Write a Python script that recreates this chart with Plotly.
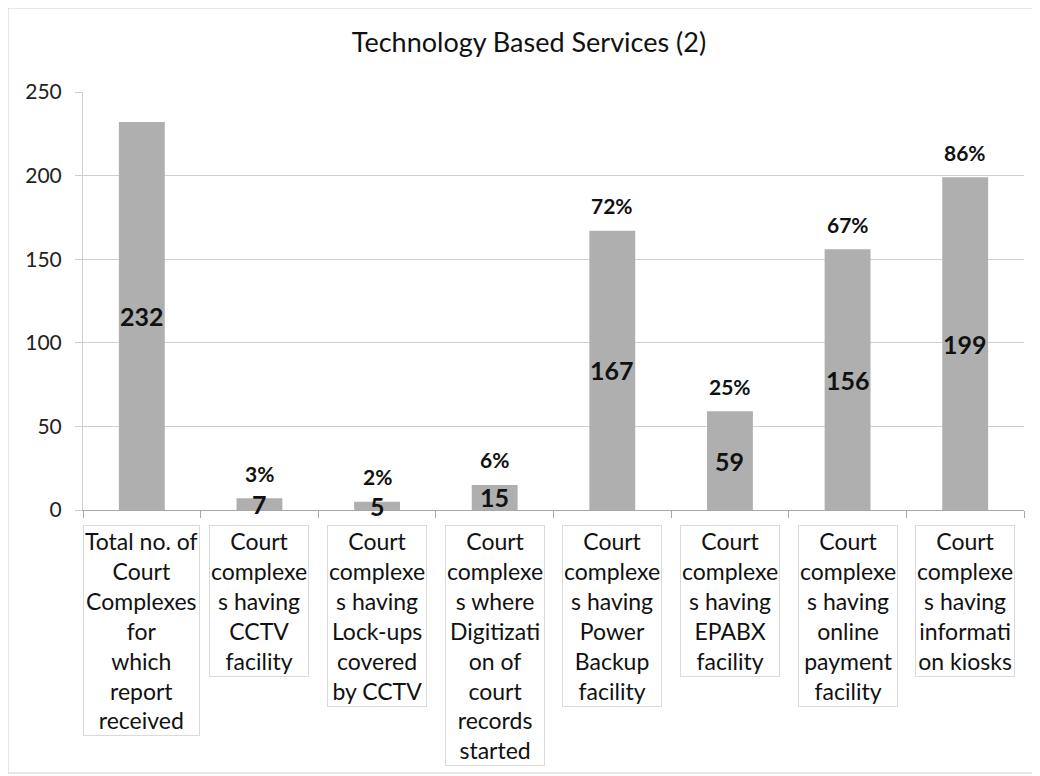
import plotly.graph_objects as go

categories = [
    "Total no. of<br>Court<br>Complexes<br>for<br>which<br>report<br>received",
    "Court<br>complexe<br>s having<br>CCTV<br>facility",
    "Court<br>complexe<br>s having<br>Lock-ups<br>covered<br>by CCTV",
    "Court<br>complexe<br>s where<br>Digitizati<br>on of<br>court<br>records<br>started",
    "Court<br>complexe<br>s having<br>Power<br>Backup<br>facility",
    "Court<br>complexe<br>s having<br>EPABX<br>facility",
    "Court<br>complexe<br>s having<br>online<br>payment<br>facility",
    "Court<br>complexe<br>s having<br>informati<br>on kiosks",
]
values = [232, 7, 5, 15, 167, 59, 156, 199]
percent_labels = ["", "3%", "2%", "6%", "72%", "25%", "67%", "86%"]
ytick_vals = [0, 50, 100, 150, 200, 250]

keys = [f"c{i}" for i in range(len(categories))]

FONT = "Lato, 'Open Sans', Arial, sans-serif"

fig = go.Figure()
fig.add_trace(go.Bar(
    x=keys, y=values,
    marker=dict(color="#afafaf", line=dict(width=0)),
    width=0.39,
    hoverinfo="skip",
))

annotations = []
for k, v, p, c in zip(keys, values, percent_labels, categories):
    annotations.append(dict(
        x=k, y=v / 2, xref="x", yref="y", text=f"<b>{v}</b>",
        showarrow=False, font=dict(family=FONT, size=25, color="#111111"),
        xanchor="center", yanchor="middle",
    ))
    if p:
        annotations.append(dict(
            x=k, y=v, xref="x", yref="y", text=f"<b>{p}</b>",
            showarrow=False, font=dict(family=FONT, size=21, color="#111111"),
            xanchor="center", yanchor="middle", yshift=25,
        ))
    annotations.append(dict(
        x=k, y=0, xref="x", yref="y", text=c,
        showarrow=False, font=dict(family=FONT, size=23, color="#111111"),
        xanchor="center", yanchor="top", yshift=-15, align="center",
        bordercolor="#dadada", borderwidth=1, borderpad=1,
    ))

# page body has an 8px margin; plot area spans x 83..1024, y 92..510 on screen
fig.update_layout(
    width=1032, height=768,
    paper_bgcolor="white", plot_bgcolor="white",
    margin=dict(l=75, r=16, t=84, b=266),
    showlegend=False,
    title=dict(
        text="Technology Based Services (2)",
        x=(529 - 8) / 1032, xanchor="center", y=1 - (43 - 8) / 768, yanchor="middle",
        font=dict(family=FONT, size=27, color="#111111"),
    ),
    annotations=annotations,
    shapes=[dict(
        type="rect", xref="paper", yref="paper",
        x0=-75 / 941, x1=1 + 15 / 941, y0=-263 / 418, y1=1 + 84 / 418,
        line=dict(color="#d0d0d0", width=1),
    )],
)
fig.update_xaxes(
    showticklabels=False,
    showline=True, linecolor="#a8a8a8", linewidth=1,
    ticks="outside", tickson="boundaries", ticklen=7, tickcolor="#a8a8a8",
    showgrid=False, range=[-0.5, 7.5],
)
fig.update_yaxes(
    range=[0, 250], tickvals=ytick_vals,
    showgrid=True, gridcolor="#cfcfcf", gridwidth=1,
    showline=True, linecolor="#cfcfcf", linewidth=1,
    ticks="outside", ticklen=7, tickcolor="#cfcfcf",
    tickfont=dict(family=FONT, size=21, color="#222222"),
    ticklabelstandoff=9,
    zeroline=False,
)

fig.write_html("out.html")
